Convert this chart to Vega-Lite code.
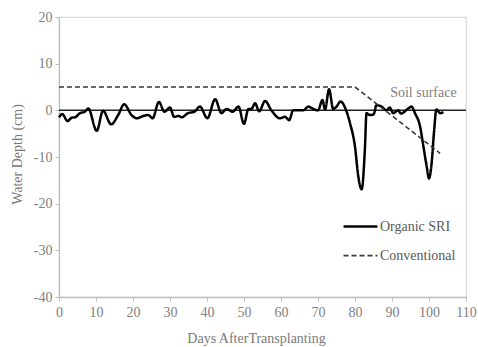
{
  "$schema": "https://vega.github.io/schema/vega-lite/v6.json",
  "width": 407,
  "height": 280,
  "autosize": "none",
  "padding": {"left": 59, "top": 17, "right": 12, "bottom": 50},
  "background": "white",
  "config": {
    "font": "Liberation Serif",
    "style": {"guide-label": {"font": "Liberation Serif", "fontSize": 14}, "guide-title": {"font": "Liberation Serif", "fontSize": 14}},
    "view": {"stroke": "#d9d9d9", "strokeWidth": 1.2},
    "axis": {
      "grid": false,
      "domainColor": "#bfbfbf",
      "domainWidth": 1.3,
      "tickColor": "#bfbfbf",
      "tickSize": 4,
      "labelFont": "Liberation Serif",
      "labelFontSize": 14,
      "labelColor": "#808080",
      "labelOverlap": false,
      "labelFlush": false,
      "labelBound": false,
      "titleFont": "Liberation Serif",
      "titleFontSize": 14,
      "titleFontWeight": "normal",
      "titleColor": "#7a7a7a"
    }
  },
  "datasets": {
    "depth": [
      {"day": 0, "depth": -1.5, "series": "Organic SRI"},
      {"day": 0.9, "depth": -0.8, "series": "Organic SRI"},
      {"day": 2.3, "depth": -2.3, "series": "Organic SRI"},
      {"day": 3.4, "depth": -1.6, "series": "Organic SRI"},
      {"day": 4.3, "depth": -1.5, "series": "Organic SRI"},
      {"day": 5.7, "depth": -0.6, "series": "Organic SRI"},
      {"day": 7, "depth": -0.3, "series": "Organic SRI"},
      {"day": 7.9, "depth": 0.4, "series": "Organic SRI"},
      {"day": 10.2, "depth": -4.4, "series": "Organic SRI"},
      {"day": 11.9, "depth": -0.1, "series": "Organic SRI"},
      {"day": 14.1, "depth": -3.0, "series": "Organic SRI"},
      {"day": 16, "depth": -1.0, "series": "Organic SRI"},
      {"day": 17.6, "depth": 1.3, "series": "Organic SRI"},
      {"day": 19.6, "depth": -1.0, "series": "Organic SRI"},
      {"day": 21, "depth": -1.7, "series": "Organic SRI"},
      {"day": 22.8, "depth": -1.2, "series": "Organic SRI"},
      {"day": 24.1, "depth": -1.0, "series": "Organic SRI"},
      {"day": 25.3, "depth": -1.7, "series": "Organic SRI"},
      {"day": 27, "depth": 1.8, "series": "Organic SRI"},
      {"day": 28.5, "depth": -0.3, "series": "Organic SRI"},
      {"day": 30, "depth": 0.6, "series": "Organic SRI"},
      {"day": 31.1, "depth": -1.4, "series": "Organic SRI"},
      {"day": 32.4, "depth": -1.2, "series": "Organic SRI"},
      {"day": 33.1, "depth": -1.5, "series": "Organic SRI"},
      {"day": 34.9, "depth": -0.6, "series": "Organic SRI"},
      {"day": 36.6, "depth": -0.3, "series": "Organic SRI"},
      {"day": 38.1, "depth": 0.8, "series": "Organic SRI"},
      {"day": 40.1, "depth": -1.7, "series": "Organic SRI"},
      {"day": 42.2, "depth": 2.4, "series": "Organic SRI"},
      {"day": 43.9, "depth": -0.6, "series": "Organic SRI"},
      {"day": 45.3, "depth": 0.3, "series": "Organic SRI"},
      {"day": 46.9, "depth": -0.3, "series": "Organic SRI"},
      {"day": 48.5, "depth": 0.8, "series": "Organic SRI"},
      {"day": 50, "depth": -2.9, "series": "Organic SRI"},
      {"day": 51.2, "depth": 0.3, "series": "Organic SRI"},
      {"day": 52, "depth": 0.3, "series": "Organic SRI"},
      {"day": 53, "depth": 1.5, "series": "Organic SRI"},
      {"day": 54.1, "depth": -0.2, "series": "Organic SRI"},
      {"day": 55.7, "depth": 2.0, "series": "Organic SRI"},
      {"day": 57.4, "depth": 0.0, "series": "Organic SRI"},
      {"day": 59.7, "depth": -1.7, "series": "Organic SRI"},
      {"day": 61.1, "depth": -1.4, "series": "Organic SRI"},
      {"day": 62.2, "depth": -2.1, "series": "Organic SRI"},
      {"day": 63.3, "depth": 0, "series": "Organic SRI"},
      {"day": 66, "depth": 0, "series": "Organic SRI"},
      {"day": 67.4, "depth": 0.8, "series": "Organic SRI"},
      {"day": 68.7, "depth": 0.3, "series": "Organic SRI"},
      {"day": 70, "depth": 0, "series": "Organic SRI"},
      {"day": 71.2, "depth": 2.2, "series": "Organic SRI"},
      {"day": 71.9, "depth": 0.2, "series": "Organic SRI"},
      {"day": 73, "depth": 4.5, "series": "Organic SRI"},
      {"day": 74.1, "depth": 0.3, "series": "Organic SRI"},
      {"day": 75, "depth": 0.8, "series": "Organic SRI"},
      {"day": 76.1, "depth": 1.9, "series": "Organic SRI"},
      {"day": 77.6, "depth": 0, "series": "Organic SRI"},
      {"day": 78.6, "depth": -2.6, "series": "Organic SRI"},
      {"day": 80, "depth": -7.8, "series": "Organic SRI"},
      {"day": 80.9, "depth": -14.2, "series": "Organic SRI"},
      {"day": 81.8, "depth": -16.9, "series": "Organic SRI"},
      {"day": 82.7, "depth": -7.8, "series": "Organic SRI"},
      {"day": 83.1, "depth": -0.6, "series": "Organic SRI"},
      {"day": 84, "depth": -1.0, "series": "Organic SRI"},
      {"day": 85, "depth": -0.9, "series": "Organic SRI"},
      {"day": 85.8, "depth": 1.1, "series": "Organic SRI"},
      {"day": 87.2, "depth": 0.8, "series": "Organic SRI"},
      {"day": 88.5, "depth": 0, "series": "Organic SRI"},
      {"day": 89.4, "depth": 0.6, "series": "Organic SRI"},
      {"day": 90.3, "depth": -0.6, "series": "Organic SRI"},
      {"day": 91.7, "depth": 0, "series": "Organic SRI"},
      {"day": 92.4, "depth": -0.7, "series": "Organic SRI"},
      {"day": 94.4, "depth": 0.4, "series": "Organic SRI"},
      {"day": 95.3, "depth": 0.8, "series": "Organic SRI"},
      {"day": 96.2, "depth": -0.6, "series": "Organic SRI"},
      {"day": 97.6, "depth": -3.5, "series": "Organic SRI"},
      {"day": 98.5, "depth": -7.8, "series": "Organic SRI"},
      {"day": 99.4, "depth": -12.1, "series": "Organic SRI"},
      {"day": 100, "depth": -14.6, "series": "Organic SRI"},
      {"day": 100.7, "depth": -11.4, "series": "Organic SRI"},
      {"day": 101.4, "depth": -4.2, "series": "Organic SRI"},
      {"day": 102, "depth": 0.2, "series": "Organic SRI"},
      {"day": 103, "depth": -0.6, "series": "Organic SRI"},
      {"day": 103.9, "depth": -0.4, "series": "Organic SRI"},
      {"day": 0, "depth": 5, "series": "Conventional"},
      {"day": 80, "depth": 5, "series": "Conventional"},
      {"day": 103, "depth": -9.2, "series": "Conventional"}
    ]
  },
  "encoding": {
    "x": {
      "field": "day", "type": "quantitative",
      "scale": {"domain": [0, 110], "nice": false},
      "axis": {"values": [0,10,20,30,40,50,60,70,80,90,100,110], "title": "Days AfterTransplanting", "labelFont": "Liberation Serif", "labelExpr": "'' + datum.value", "labelPadding": 4, "titleX": 197, "titleY": 41, "titleBaseline": "middle", "titleAnchor": null}
    },
    "y": {
      "field": "depth", "type": "quantitative",
      "scale": {"domain": [-40, 20], "nice": false},
      "axis": {"values": [-40,-30,-20,-10,0,10,20], "title": "Water Depth (cm)", "labelFont": "Liberation Serif", "labelExpr": "'' + datum.value", "labelPadding": 3, "titleX": -42, "titleY": 137, "titleBaseline": "middle", "titleAngle": -90}
    },
    "color": {
      "field": "series", "type": "nominal",
      "scale": {"domain": ["Organic SRI", "Conventional"], "range": ["#000000", "#3a3a3a"]},
      "legend": {
        "title": null, "orient": "none", "legendX": 283, "legendY": 191,
        "symbolType": "stroke", "symbolSize": 1150, "labelFontSize": 14, "labelFont": "Liberation Serif",
        "labelColor": "#595959", "rowPadding": 3.6, "labelOffset": 1
      }
    },
    "strokeDash": {
      "field": "series", "type": "nominal",
      "scale": {"domain": ["Organic SRI", "Conventional"], "range": [[1, 0], [5, 3]]}
    },
    "strokeWidth": {
      "field": "series", "type": "nominal",
      "scale": {"domain": ["Organic SRI", "Conventional"], "range": [2.5, 1.6]}
    }
  },
  "layer": [
    {
      "data": {"values": [{"y": 0}]},
      "mark": {"type": "rule", "color": "#222222", "strokeWidth": 1.5},
      "encoding": {"y": {"field": "y", "type": "quantitative"}, "x": null, "color": null, "strokeDash": null, "strokeWidth": null}
    },
    {
      "data": {"values": [{"x": 89.5, "y": 3.7, "t": "Soil surface"}]},
      "mark": {"type": "text", "align": "left", "baseline": "middle", "font": "Liberation Serif", "fontSize": 14, "color": "#808080"},
      "encoding": {
        "x": {"field": "x", "type": "quantitative"},
        "y": {"field": "y", "type": "quantitative"},
        "text": {"field": "t"},
        "color": null, "strokeDash": null, "strokeWidth": null
      }
    },
    {
      "data": {"name": "depth"},
      "transform": [{"filter": "datum.series === 'Organic SRI'"}],
      "mark": {"type": "line", "interpolate": "monotone"}
    },
    {
      "data": {"name": "depth"},
      "transform": [{"filter": "datum.series === 'Conventional'"}],
      "mark": {"type": "line", "interpolate": "linear"}
    }
  ]
}
